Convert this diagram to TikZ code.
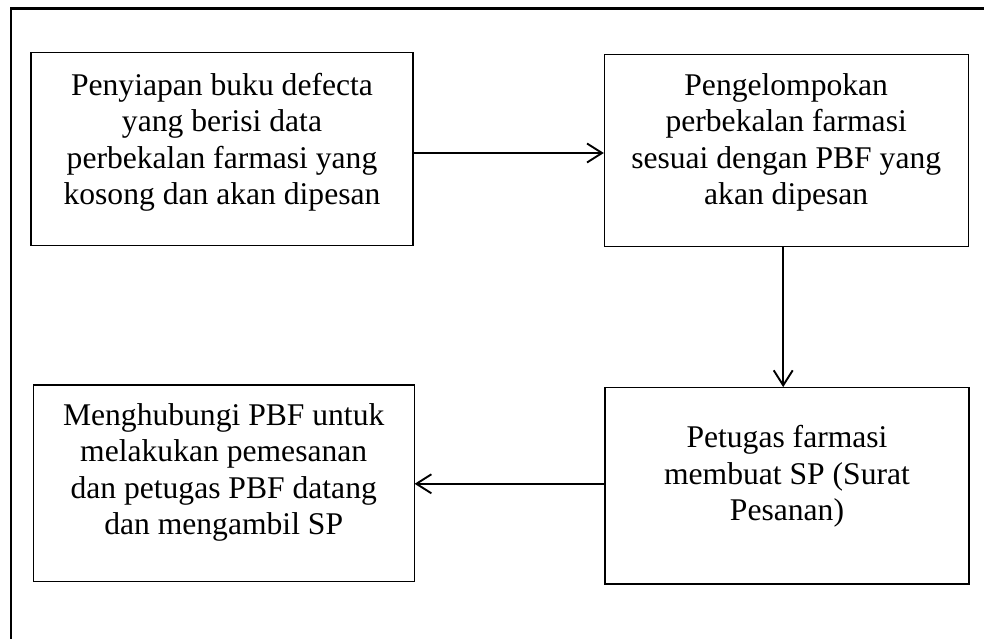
\documentclass[tikz,border=0pt]{standalone}
\usepackage{fontspec}
\setmainfont{Liberation Serif}
\usetikzlibrary{arrows.meta}
\begin{document}
\begin{tikzpicture}[x=1pt,y=-1pt,
  box/.style={draw=black,line width=1.1pt,inner sep=0pt},
  txt/.style={align=center,inner sep=0pt,font=\fontsize{31.6}{36.5}\selectfont},
  arr/.style={line width=1.9pt,-{Straight Barb[length=15pt,width=19pt]}}]
\useasboundingbox (0,0) rectangle (984,639);
\clip (0,0) rectangle (984,639);
\draw[line width=2.3pt] (11.3,8.5) rectangle (1100,750);
% boxes
\node[box,minimum width=382pt,minimum height=193.4pt] (b1) at (222,149) {};
\node[box,minimum width=363.7pt,minimum height=192pt] (b2) at (786.2,150.7) {};
\node[box,minimum width=380.7pt,minimum height=196.7pt] (b3) at (223.7,483.3) {};
\node[box,minimum width=364pt,minimum height=196.3pt] (b4) at (787,485.8) {};
% texts
\node[txt] (t1) at (222,142.7) {\strut Penyiapan buku defecta\\\strut yang berisi data\\\strut perbekalan farmasi yang\\\strut kosong dan akan dipesan};
\node[txt] (t2) at (786.2,142.7) {\strut Pengelompokan\\\strut perbekalan farmasi\\\strut sesuai dengan PBF yang\\\strut akan dipesan};
\node[txt] (t3) at (223.7,472.7) {\strut Menghubungi PBF untuk\\\strut melakukan pemesanan\\\strut dan petugas PBF datang\\\strut dan mengambil SP};
\node[txt] (t4) at (787,476.7) {\strut Petugas farmasi\\\strut membuat SP (Surat\\\strut Pesanan)};
% connectors
\draw[arr] ([yshift=-4pt]b1.east) -- ([yshift=-4pt]b1.east -| b2.west);
\draw[arr] ([xshift=-3pt]b2.south) -- ([xshift=-3pt]b2.south |- b4.north);
\draw[arr] ([yshift=2pt]b4.west) -- ([yshift=2pt]b4.west -| b3.east);
\end{tikzpicture}
\end{document}
